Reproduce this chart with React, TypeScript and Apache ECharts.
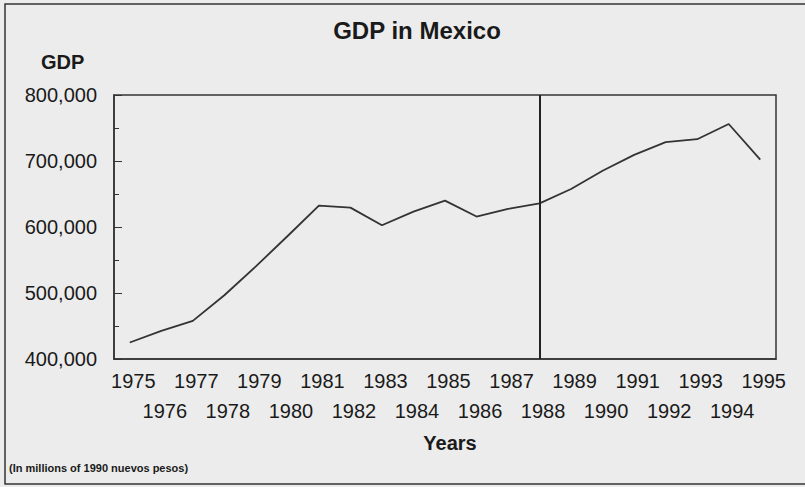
import React, { useEffect, useRef } from "react";
import * as echarts from "echarts";

const years = [
  "1975", "1976", "1977", "1978", "1979", "1980", "1981", "1982", "1983", "1984", "1985",
  "1986", "1987", "1988", "1989", "1990", "1991", "1992", "1993", "1994", "1995",
];
const gdp = [
  425000, 442700, 457800, 496600, 540300, 586000, 632400, 629400, 602700, 623300, 640000,
  615800, 627400, 635900, 657600, 685200, 709300, 728500, 733000, 756100, 702200,
];
const markerYear = "1988";
const titleText = "GDP in Mexico";
const yName = "GDP";
const xName = "Years";
const footnote = "(In millions of 1990 nuevos pesos)";

const FONT = "'Liberation Sans', Arial, sans-serif";
const INK = "#1a1a1a";

export default function App() {
  const ref = useRef<HTMLDivElement>(null);
  useEffect(() => {
    if (!ref.current) return;
    const chart = echarts.init(ref.current, null, { renderer: "svg" });
    chart.setOption({
      animation: false,
      backgroundColor: "#ececec",
      textStyle: { fontFamily: FONT, color: INK },
      title: {
        text: titleText,
        left: 412,
        top: 13,
        textAlign: "center",
        textStyle: { fontFamily: FONT, fontSize: 24, fontWeight: "bold", color: INK },
      },
      graphic: [
        {
          type: "rect",
          shape: { x: 5, y: 4, width: 810, height: 480 },
          style: { fill: "none", stroke: "#333", lineWidth: 1.5 },
          silent: true,
        },
        {
          type: "text",
          x: 41,
          y: 62,
          style: {
            text: yName,
            font: `bold 20px ${FONT}`,
            fill: INK,
            textVerticalAlign: "middle",
          },
        },
        {
          type: "text",
          x: 450,
          y: 443,
          style: {
            text: xName,
            font: `bold 20px ${FONT}`,
            fill: INK,
            textAlign: "center",
            textVerticalAlign: "middle",
          },
        },
        {
          type: "text",
          x: 9,
          y: 468,
          style: {
            text: footnote,
            font: `bold 11px ${FONT}`,
            fill: INK,
            textVerticalAlign: "middle",
          },
        },
      ],
      grid: {
        left: 114,
        top: 95,
        right: 29,
        bottom: 128,
        show: true,
        borderColor: "#333",
        borderWidth: 1.5,
        backgroundColor: "transparent",
      },
      xAxis: {
        type: "category",
        data: years,
        boundaryGap: true,
        axisLine: { lineStyle: { color: "#333", width: 1.5 } },
        axisTick: {
          inside: true,
          length: 9,
          alignWithLabel: true,
          interval: 0,
          lineStyle: { color: "#333", width: 1.2 },
        },
        axisLabel: {
          interval: 0,
          margin: 7,
          fontSize: 20,
          lineHeight: 30,
          color: INK,
          fontFamily: FONT,
          padding: [0, 0, 0, 7],
          formatter: (v: string, i: number) => (i % 2 === 0 ? v : "\n" + v),
        },
        splitLine: { show: false },
      },
      yAxis: {
        type: "value",
        min: 400000,
        max: 800000,
        interval: 100000,
        axisLine: { show: true, lineStyle: { color: "#333", width: 1.5 } },
        axisTick: { show: true, inside: true, length: 8, lineStyle: { color: "#333" } },
        minorTick: { show: true, splitNumber: 2, length: 5, lineStyle: { color: "#333" } },
        splitLine: { show: false },
        axisLabel: {
          margin: 17,
          fontSize: 20,
          color: INK,
          fontFamily: FONT,
          formatter: (v: number) => v.toLocaleString("en-US"),
        },
      },
      series: [
        {
          type: "line",
          data: gdp,
          symbol: "none",
          lineStyle: { color: "#333", width: 1.8 },
          markLine: {
            silent: true,
            symbol: "none",
            label: { show: false },
            lineStyle: { color: "#222", width: 2, type: "solid" },
            data: [{ xAxis: markerYear }],
          },
        },
      ],
    });
    return () => chart.dispose();
  }, []);
  return (
    <div
      ref={ref}
      style={{ position: "fixed", left: 0, top: 0, width: 805, height: 487 }}
    />
  );
}
